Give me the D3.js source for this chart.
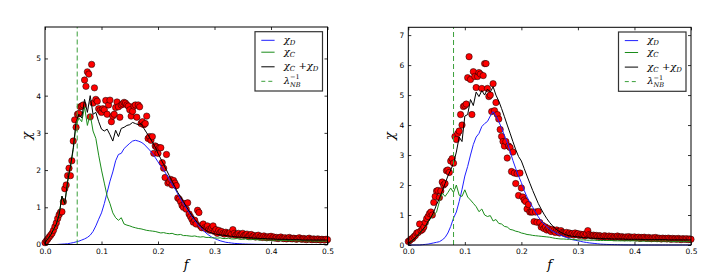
<!DOCTYPE html>
<html>
<head>
<meta charset="utf-8">
<script src="https://cdn.jsdelivr.net/npm/d3@7"></script>
<style>
  body { margin: 0; background: #fff; }
  svg { display: block; }
  .tick text { font-family: "DejaVu Sans", sans-serif; font-size: 7.5px; fill: #000; }
  .tick line { stroke: #000; stroke-width: 0.8; }
</style>
</head>
<body>
<svg width="727" height="273"></svg>
<script>
// sampling steps of the curves and of the measured points (f values)
var lineStep = 0.005;
var dotStep = 0.0025;

var xTicks = [0, 0.1, 0.2, 0.3, 0.4, 0.5];
var leftYTicks = [0, 1, 2, 3, 4, 5];
var rightYTicks = [0, 1, 2, 3, 4, 5, 6, 7];

// left panel
var leftChiD = [0,0,0,0,0,0.005,0.01,0.015,0.02,0.035,
  0.05,0.07,0.09,0.12,0.15,0.19,0.25,0.35,0.5,0.68,
  0.85,1.1,1.4,1.7,1.95,2.25,2.42,2.45,2.58,2.65,
  2.72,2.78,2.8,2.78,2.75,2.7,2.62,2.54,2.45,2.34,
  2.22,2.11,2.0,1.88,1.75,1.62,1.5,1.36,1.22,1.1,
  0.98,0.86,0.75,0.65,0.55,0.46,0.38,0.31,0.25,0.2,
  0.16,0.13,0.1,0.08,0.06,0.05,0.04,0.03,0.025,0.02,
  0.015,0.012,0.01,0.008,0.006,0.005,0.004,0.003,0.002,0.001,
  0,0,0,0,0,0,0,0,0,0,
  0,0,0,0,0,0,0,0,0,0,
  0];
var leftChiC = [0.05,0.15,0.25,0.4,0.55,0.8,1.3,1.1,1.68,2.08,
  2.55,3.2,3.4,3.3,3.7,3.2,3.5,3.05,2.85,2.4,
  2.0,1.65,1.3,1.1,0.85,0.72,0.65,0.72,0.55,0.52,
  0.5,0.47,0.45,0.43,0.42,0.4,0.38,0.37,0.36,0.35,
  0.33,0.31,0.32,0.3,0.29,0.3,0.27,0.26,0.27,0.24,
  0.24,0.23,0.22,0.23,0.21,0.2,0.21,0.19,0.19,0.18,
  0.18,0.17,0.18,0.16,0.16,0.17,0.15,0.15,0.16,0.14,
  0.14,0.15,0.13,0.13,0.14,0.13,0.12,0.13,0.12,0.12,
  0.12,0.11,0.12,0.11,0.11,0.11,0.1,0.11,0.1,0.1,
  0.1,0.1,0.1,0.09,0.1,0.09,0.09,0.09,0.09,0.09,
  0.09];
var leftChiSum = [0.05,0.15,0.25,0.4,0.55,0.8,1.3,1.1,1.7,2.1,
  2.6,3.3,3.5,3.4,3.9,3.55,4.0,3.5,3.55,3.3,
  3.1,3.05,3.1,2.95,2.78,3.07,2.9,3.12,3.15,3.2,
  3.22,3.28,3.25,3.22,3.25,3.12,3.0,2.88,2.75,2.62,
  2.45,2.3,2.15,2.0,1.85,1.7,1.55,1.4,1.28,1.15,
  1.02,0.9,0.78,0.68,0.58,0.5,0.44,0.38,0.34,0.31,
  0.29,0.27,0.26,0.25,0.24,0.23,0.22,0.21,0.2,0.2,
  0.19,0.19,0.18,0.18,0.17,0.17,0.16,0.16,0.16,0.15,
  0.15,0.15,0.14,0.14,0.14,0.14,0.13,0.13,0.13,0.13,
  0.13,0.12,0.12,0.12,0.12,0.12,0.12,0.12,0.12,0.12,
  0.12];
var leftChiData = [0.05,0.1,0.15,0.2,0.25,0.3,0.38,0.48,0.58,0.7,
  0.8,0.87,0.88,1.15,1.5,1.6,1.85,2.05,1.85,2.25,
  2.78,3.35,3.15,3.5,3.52,3.7,3.72,3.75,4.42,4.25,
  4.64,4.58,3.43,4.84,3.8,4.21,3.9,3.85,3.65,3.6,
  3.55,3.65,3.62,3.87,3.5,3.75,3.88,3.3,3.45,3.5,
  3.68,3.83,3.7,3.42,3.75,3.78,3.82,3.8,3.75,3.72,
  3.62,3.45,3.58,3.72,3.75,3.42,3.75,3.7,3.25,3.3,
  3.22,3.25,3.45,2.85,2.9,2.8,2.9,2.45,2.65,2.62,
  2.45,2.6,2.6,2.2,2.05,1.8,2.42,1.65,1.68,1.75,
  1.6,1.72,1.65,1.58,1.25,1.22,1.15,1.05,1.0,1.1,
  0.95,1.12,0.82,0.75,0.68,0.6,0.65,0.55,0.92,0.86,
  0.5,0.45,0.55,0.45,0.42,0.5,0.4,0.38,0.45,0.5,
  0.35,0.4,0.3,0.38,0.32,0.35,0.3,0.28,0.33,0.3,
  0.28,0.32,0.27,0.4,0.3,0.25,0.28,0.3,0.25,0.27,
  0.3,0.24,0.26,0.28,0.22,0.25,0.27,0.22,0.24,0.2,
  0.23,0.25,0.2,0.22,0.19,0.23,0.2,0.18,0.21,0.19,
  0.22,0.18,0.2,0.17,0.19,0.16,0.18,0.2,0.17,0.16,
  0.18,0.15,0.17,0.19,0.16,0.15,0.17,0.16,0.14,0.16,
  0.18,0.15,0.14,0.16,0.15,0.13,0.15,0.17,0.14,0.13,
  0.15,0.14,0.13,0.15,0.14,0.12,0.14,0.13,0.12,0.14,
  0.13];
var leftLambda = 0.057;

// right panel
var rightChiD = [0,0,0,0,0,0.01,0.02,0.03,0.05,0.07,
  0.09,0.11,0.17,0.25,0.4,0.62,0.9,1.1,1.45,1.85,
  2.3,2.62,3.0,3.35,3.6,3.72,3.95,4.05,4.12,4.3,
  4.45,4.3,4.12,3.9,3.65,3.42,3.12,2.82,2.55,2.3,
  2.08,1.82,1.6,1.42,1.26,1.1,0.94,0.8,0.7,0.61,
  0.53,0.46,0.41,0.36,0.32,0.28,0.25,0.21,0.18,0.16,
  0.14,0.12,0.1,0.085,0.07,0.06,0.05,0.04,0.03,0.025,
  0.02,0.017,0.015,0.012,0.01,0.008,0.005,0.004,0.003,0.002,
  0,0,0,0,0,0,0,0,0,0,
  0,0,0,0,0,0,0,0,0,0,
  0];
var rightChiC = [0.05,0.12,0.2,0.3,0.4,0.5,0.62,0.78,0.9,1.0,
  1.1,1.45,1.73,1.62,1.75,1.9,1.75,2.0,1.66,1.62,
  1.84,1.6,1.5,1.39,1.28,1.11,1.2,1.0,0.95,0.98,
  0.8,0.85,0.72,0.7,0.62,0.6,0.52,0.5,0.46,0.44,
  0.4,0.38,0.35,0.34,0.32,0.31,0.3,0.29,0.28,0.27,
  0.26,0.24,0.22,0.21,0.2,0.2,0.19,0.19,0.18,0.18,
  0.17,0.17,0.17,0.16,0.16,0.16,0.16,0.15,0.15,0.15,
  0.15,0.15,0.15,0.14,0.14,0.14,0.14,0.14,0.14,0.14,
  0.14,0.14,0.13,0.13,0.13,0.13,0.13,0.13,0.13,0.13,
  0.13,0.13,0.13,0.12,0.12,0.12,0.12,0.12,0.12,0.12,
  0.12];
var rightChiSum = [0.05,0.12,0.2,0.3,0.4,0.5,0.62,0.78,0.92,1.1,
  1.35,1.55,1.8,2.05,2.3,2.5,2.73,3.1,3.6,3.45,
  4.3,4.35,4.85,4.65,5.1,4.95,5.15,5.0,5.2,5.1,
  5.28,5.0,4.8,4.55,4.28,4.0,3.73,3.45,3.18,2.95,
  2.8,2.55,2.3,2.06,1.82,1.6,1.38,1.2,1.03,0.88,
  0.75,0.64,0.55,0.48,0.42,0.37,0.33,0.31,0.29,0.28,
  0.27,0.26,0.25,0.24,0.23,0.23,0.22,0.22,0.22,0.21,
  0.21,0.21,0.2,0.2,0.2,0.2,0.2,0.19,0.19,0.19,
  0.19,0.19,0.19,0.18,0.18,0.18,0.18,0.18,0.18,0.18,
  0.18,0.18,0.17,0.17,0.17,0.17,0.17,0.17,0.17,0.17,
  0.17];
var rightChiData = [0.12,0.15,0.2,0.22,0.28,0.32,0.4,0.42,0.7,0.48,
  0.52,0.6,0.75,0.88,0.95,1.05,1.1,1.0,1.42,1.62,
  1.8,1.82,1.58,1.8,2.1,2.0,2.05,2.48,2.5,2.42,
  2.8,2.88,2.73,3.62,3.52,3.72,3.8,4.35,4.0,4.62,
  4.65,4.7,5.58,6.28,5.52,4.35,5.78,5.62,5.25,5.62,
  5.75,5.7,5.22,5.65,6.05,6.05,5.22,4.95,5.0,4.45,
  5.38,4.48,4.75,4.35,4.2,3.85,3.62,3.45,3.3,3.45,
  2.9,3.3,3.25,2.45,3.1,2.4,2.05,2.38,1.65,2.4,
  1.9,1.6,1.5,1.45,1.2,1.35,1.1,1.1,1.1,0.78,
  1.1,0.76,1.12,0.75,0.6,0.65,0.55,0.6,0.5,0.55,
  0.5,0.45,0.52,0.48,0.42,0.5,0.45,0.4,0.48,0.42,
  0.4,0.38,0.42,0.35,0.4,0.36,0.38,0.33,0.4,0.35,
  0.38,0.32,0.36,0.33,0.35,0.3,0.38,0.48,0.35,0.32,
  0.3,0.33,0.3,0.32,0.28,0.31,0.3,0.27,0.29,0.31,
  0.28,0.26,0.3,0.27,0.29,0.25,0.28,0.26,0.3,0.27,
  0.25,0.28,0.26,0.24,0.27,0.25,0.28,0.24,0.26,0.25,
  0.27,0.23,0.25,0.26,0.22,0.25,0.24,0.26,0.23,0.22,
  0.25,0.23,0.21,0.24,0.22,0.25,0.21,0.23,0.22,0.2,
  0.23,0.21,0.22,0.2,0.23,0.21,0.19,0.22,0.2,0.21,
  0.19,0.22,0.2,0.18,0.21,0.2,0.19,0.21,0.18,0.2,
  0.19];
var rightLambda = 0.08;

var svg = d3.select('svg');

function drawPanel(p) {
  var x = d3.scaleLinear().domain([0, 0.5]).range([p.left, p.right]);
  var y = d3.scaleLinear().domain([0, p.yMax]).range([p.bottom, p.top]);
  var g = svg.append('g');

  var line = d3.line()
    .x(function(d, i) { return x(i * lineStep); })
    .y(function(d) { return y(d); });

  //measured points
  g.selectAll('circle.pt')
    .data(p.data)
  .enter().append('circle')
    .attr('class', 'pt')
    .attr('cx', function(d, i) { return x(i * dotStep); })
    .attr('cy', function(d) { return y(d); })
    .attr('r', 3.2)
    .attr('fill', '#ff0000')
    .attr('stroke', '#000')
    .attr('stroke-width', 0.5);

  g.append('path').datum(p.chiD).attr('d', line)
    .attr('fill', 'none').attr('stroke', '#1f1fff').attr('stroke-width', 1);
  g.append('path').datum(p.chiC).attr('d', line)
    .attr('fill', 'none').attr('stroke', '#1a8c1a').attr('stroke-width', 1);
  g.append('path').datum(p.chiSum).attr('d', line)
    .attr('fill', 'none').attr('stroke', '#000').attr('stroke-width', 1);

  g.append('line')
    .attr('x1', x(p.lambda)).attr('x2', x(p.lambda))
    .attr('y1', y(0)).attr('y2', p.top)
    .attr('stroke', '#3a9f3a').attr('stroke-width', 1)
    .attr('stroke-dasharray', '5,3');

  // axes, ticks pointing inward on all sides
  var fmt = d3.format('.1f');
  g.append('g').attr('transform', 'translate(0,' + p.bottom + ')')
    .call(d3.axisBottom(x).tickValues(xTicks).tickFormat(fmt).tickSizeInner(-3).tickSizeOuter(0).tickPadding(4));
  g.append('g').attr('transform', 'translate(0,' + p.top + ')')
    .call(d3.axisTop(x).tickValues(xTicks).tickFormat('').tickSizeInner(-3).tickSizeOuter(0));
  g.append('g').attr('transform', 'translate(' + p.left + ',0)')
    .call(d3.axisLeft(y).tickValues(p.yTicks).tickFormat(d3.format('d')).tickSizeInner(-3).tickSizeOuter(0).tickPadding(4));
  g.append('g').attr('transform', 'translate(' + p.right + ',0)')
    .call(d3.axisRight(y).tickValues(p.yTicks).tickFormat('').tickSizeInner(-3).tickSizeOuter(0));
  g.selectAll('.domain').remove();

  g.append('rect')
    .attr('x', p.left).attr('y', p.top)
    .attr('width', p.right - p.left).attr('height', p.bottom - p.top)
    .attr('fill', 'none').attr('stroke', '#000').attr('stroke-width', 1);

  // axis labels
  var cx = (p.left + p.right) / 2;
  g.append('text').attr('x', cx).attr('y', 269)
    .attr('text-anchor', 'middle')
    .style('font-family', '"DejaVu Serif", serif').style('font-style', 'italic').style('font-size', '13px')
    .text('f');
  g.append('text')
    .attr('transform', 'translate(' + (p.left - 14) + ',' + ((p.top + p.bottom) / 2) + ') rotate(-90)')
    .attr('text-anchor', 'middle')
    .style('font-family', '"DejaVu Serif", serif').style('font-style', 'italic').style('font-size', '13px')
    .text('\u03c7');

  // legend
  var lw = 67.5, lh = 59.3;
  var lx = p.right - 5 - lw, ly = p.top + 4.7;
  var lg = g.append('g').attr('transform', 'translate(' + lx + ',' + ly + ')');
  lg.append('rect').attr('width', lw).attr('height', lh)
    .attr('fill', '#fff').attr('stroke', '#333').attr('stroke-width', 1.2);
  var rows = [8.6, 20.5, 35.1, 49.6];
  var styles = [
    { c: '#1f1fff', dash: null },
    { c: '#1a8c1a', dash: null },
    { c: '#000', dash: null },
    { c: '#3a9f3a', dash: '4,3' }
  ];
  styles.forEach(function(s, i) {
    lg.append('line').attr('x1', 6.3).attr('x2', 19.6).attr('y1', rows[i]).attr('y2', rows[i])
      .attr('stroke', s.c).attr('stroke-width', 1).attr('stroke-dasharray', s.dash);
  });
  var serif = '"DejaVu Serif", serif';
  function lab(i) {
    return lg.append('text').attr('x', 28.8).attr('y', rows[i] + 2.5)
      .style('font-family', serif).style('font-style', 'italic').style('font-size', '10px');
  }
  var t0 = lab(0);
  t0.append('tspan').text('\u03c7');
  t0.append('tspan').attr('dy', 2).style('font-size', '7px').text('D');
  var t1 = lab(1);
  t1.append('tspan').text('\u03c7');
  t1.append('tspan').attr('dy', 2).style('font-size', '7px').text('C');
  var t2 = lab(2);
  t2.append('tspan').text('\u03c7');
  t2.append('tspan').attr('dy', 2).style('font-size', '7px').text('C');
  t2.append('tspan').attr('dy', -2).style('font-style', 'normal').text(' +');
  t2.append('tspan').text('\u03c7');
  t2.append('tspan').attr('dy', 2).style('font-size', '7px').text('D');
  var t3 = lab(3);
  t3.append('tspan').text('\u03bb');
  lg.append('text').attr('x', 35).attr('y', rows[3] - 2)
    .style('font-family', serif).style('font-size', '6.5px').text('\u22121');
  lg.append('text').attr('x', 35).attr('y', rows[3] + 5.5)
    .style('font-family', serif).style('font-style', 'italic').style('font-size', '6.5px').text('NB');
}

drawPanel({
  left: 45, right: 327.5, top: 27, bottom: 244.5, yMax: 5.845,
  yTicks: leftYTicks, chiD: leftChiD, chiC: leftChiC, chiSum: leftChiSum,
  data: leftChiData, lambda: leftLambda
});
drawPanel({
  left: 408.3, right: 691, top: 27.3, bottom: 245, yMax: 7.26,
  yTicks: rightYTicks, chiD: rightChiD, chiC: rightChiC, chiSum: rightChiSum,
  data: rightChiData, lambda: rightLambda
});
</script>
</body>
</html>
